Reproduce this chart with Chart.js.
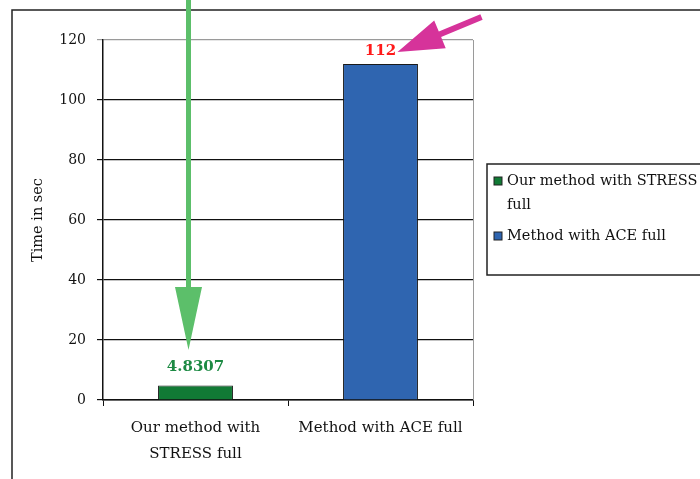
<!DOCTYPE html>
<html>
<head>
<meta charset="utf-8">
<script src="https://cdn.jsdelivr.net/npm/chart.js@4"></script>
<style>
  html, body { margin: 0; padding: 0; background: #fff; }
  #wrap { width: 700px; height: 479px; }
</style>
</head>
<body>
<div id="wrap"><canvas id="chart" width="700" height="479"></canvas></div>
<script>
// data
const categories = [['Our method with', 'STRESS full'], 'Method with ACE full'];
const legendLabels = ['Our method with STRESS full', 'Method with ACE full'];
const times = [4.8307, 112];
const valueLabels = ['4.8307', '112'];
const barColors = ['#117a35', '#2f65b0'];
const labelColors = ['#1c8a43', '#ff1a1a'];
const yTicks = [0, 20, 40, 60, 80, 100, 120];

const FONT = '"DejaVu Serif", "Liberation Serif", serif';

// frame, plot border, value labels, arrows, legend box
const decorations = {
    id: 'decorations',
    afterDraw(chart) {
        const ctx = chart.ctx;
        const area = chart.chartArea;
        const meta = chart.getDatasetMeta(0);
        const y = chart.scales.y;

        ctx.save();
        // outer frame (left + top only are visible)
        ctx.strokeStyle = '#222';
        ctx.lineWidth = 1.5;
        ctx.beginPath();
        ctx.moveTo(12, 479);
        ctx.lineTo(12, 10);
        ctx.lineTo(700, 10);
        ctx.stroke();

        // grey right border of the plot
        ctx.strokeStyle = '#9a9a9a';
        ctx.lineWidth = 1;
        ctx.beginPath();
        ctx.moveTo(area.right + 0.5, area.top);
        ctx.lineTo(area.right + 0.5, area.bottom);
        ctx.stroke();

        // value labels
        ctx.font = 'bold 15px ' + FONT;
        ctx.textAlign = 'center';
        ctx.textBaseline = 'bottom';
        meta.data.forEach((bar, i) => {
            ctx.fillStyle = labelColors[i];
            ctx.fillText(valueLabels[i], bar.x, bar.y - (i === 0 ? 11 : 5));
        });

        // green arrow pointing at the first bar
        const g = meta.data[0];
        const gx = g.x - 7;
        const tipY = y.getPixelForValue(16.7);
        ctx.fillStyle = '#5cbf6a';
        ctx.fillRect(gx - 2.5, 0, 5, tipY - 62);
        ctx.beginPath();
        ctx.moveTo(gx - 13.5, tipY - 63);
        ctx.lineTo(gx + 13.5, tipY - 63);
        ctx.lineTo(gx, tipY);
        ctx.closePath();
        ctx.fill();

        // pink arrow pointing at the second label
        const b = meta.data[1];
        const tip = { x: b.x + 17, y: b.y - 12 };
        const tail = { x: b.x + 101, y: b.y - 47 };
        const dx = tail.x - tip.x, dy = tail.y - tip.y;
        const len = Math.hypot(dx, dy);
        const ux = dx / len, uy = dy / len;
        const nx = -uy, ny = ux;
        const headLen = 46, headHalf = 15, shaftHalf = 3;
        const base = { x: tip.x + ux * headLen, y: tip.y + uy * headLen };
        ctx.fillStyle = '#d6339a';
        ctx.beginPath();
        ctx.moveTo(tip.x, tip.y);
        ctx.lineTo(base.x + nx * headHalf, base.y + ny * headHalf);
        ctx.lineTo(base.x + nx * shaftHalf, base.y + ny * shaftHalf);
        ctx.lineTo(tail.x + nx * shaftHalf, tail.y + ny * shaftHalf);
        ctx.lineTo(tail.x - nx * shaftHalf, tail.y - ny * shaftHalf);
        ctx.lineTo(base.x - nx * shaftHalf, base.y - ny * shaftHalf);
        ctx.lineTo(base.x - nx * headHalf, base.y - ny * headHalf);
        ctx.closePath();
        ctx.fill();

        // legend box
        const lx = 487, ly = 164;
        ctx.strokeStyle = '#222';
        ctx.lineWidth = 1.5;
        ctx.strokeRect(lx, ly, 230, 111);
        ctx.font = '14.5px ' + FONT;
        ctx.textAlign = 'left';
        ctx.textBaseline = 'middle';
        const lines = [['Our method with STRESS', 'full'], [legendLabels[1]]];
        const rows = [181, 236];
        lines.forEach((ls, i) => {
            ctx.fillStyle = barColors[i];
            ctx.fillRect(lx + 7, rows[i] - 4, 8, 8);
            ctx.strokeStyle = '#222';
            ctx.lineWidth = 1;
            ctx.strokeRect(lx + 7, rows[i] - 4, 8, 8);
            ctx.fillStyle = '#111';
            ls.forEach((t, k) => ctx.fillText(t, lx + 20, rows[i] + k * 24));
        });
        ctx.restore();
    }
};

new Chart(document.getElementById('chart'), {
    type: 'bar',
    data: {
        labels: categories,
        datasets: [{
            label: 'Time in sec',
            data: times,
            backgroundColor: barColors,
            borderColor: '#1a1a1a',
            borderWidth: 1,
            categoryPercentage: 1,
            barPercentage: 0.405
        }]
    },
    options: {
        responsive: false,
        animation: false,
        layout: { padding: { left: 26, top: 40, right: 227, bottom: 0 } },
        plugins: {
            legend: { display: false },
            tooltip: { enabled: false }
        },
        scales: {
            x: {
                offset: true,
                grid: { display: true, offset: true, drawOnChartArea: false, tickLength: 6, color: '#111' },
                border: { color: '#111', width: 1.5 },
                ticks: { color: '#111', font: { family: FONT, size: 15, lineHeight: 1.73 }, padding: 9, maxRotation: 0 },
                afterFit: (scale) => { scale.height = 79; }
            },
            y: {
                min: 0,
                max: 120,
                afterBuildTicks: (scale) => { scale.ticks = yTicks.map(v => ({ value: v })); },
                grid: {
                    color: (c) => c.tick && c.tick.value === 120 ? '#9a9a9a' : '#111',
                    lineWidth: 1.2,
                    tickLength: 6
                },
                border: { color: '#111', width: 1.5 },
                ticks: { color: '#111', font: { family: FONT, size: 14 }, padding: 11 },
                title: {
                    display: true,
                    text: 'Time in sec',
                    color: '#111',
                    font: { family: FONT, size: 14.5 },
                    padding: { top: 4, bottom: 0 }
                },
                afterFit: (scale) => { scale.width = 77; }
            }
        }
    },
    plugins: [decorations]
});
</script>
</body>
</html>
